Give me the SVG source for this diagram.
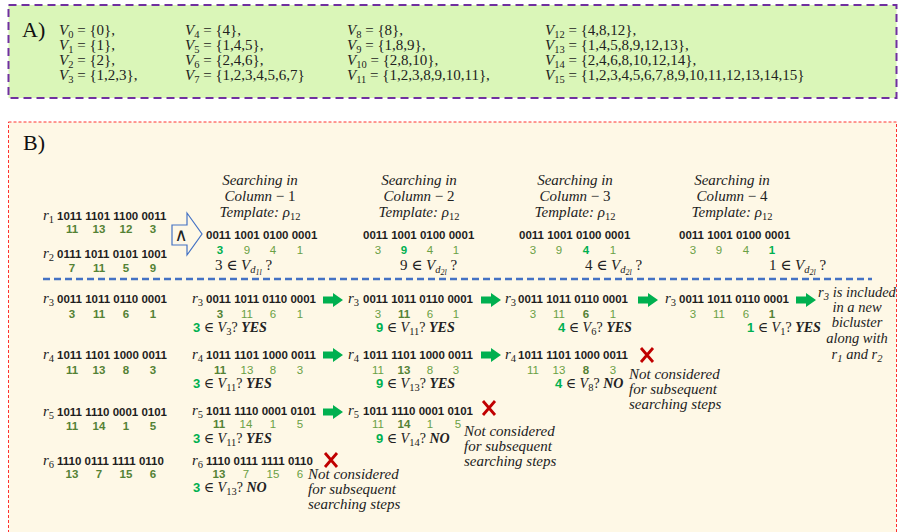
<svg xmlns="http://www.w3.org/2000/svg" xmlns:xlink="http://www.w3.org/1999/xlink" width="905" height="532" viewBox="0 0 905 532">
  <style>
    .ser{font-family:"Liberation Serif","DejaVu Serif",serif;font-size:15px;fill:#222}
    .q{font-size:14px}
    .res{font-size:14.5px}
    .lbl{font-family:"Liberation Serif","DejaVu Serif",serif;font-size:22px;fill:#111}
    .it{font-style:italic}
    .bi{font-style:italic;font-weight:bold}
    .sb{font-size:10.5px}
    .ssb{font-size:8px}
    .mid{text-anchor:middle}
    .bits{font-family:"Liberation Sans",Arial,sans-serif;font-size:11.5px;font-weight:bold;fill:#1e1e1e}
    .num{font-family:"Liberation Sans",Arial,sans-serif;font-size:11.5px;fill:#6aa044;text-anchor:middle}
    .nb{font-weight:bold;fill:#548235}
    .hl{font-weight:bold;fill:#00b050}
    .qd{font-family:"Liberation Sans",Arial,sans-serif;font-weight:bold;font-size:13px;fill:#00b050}
    .x{stroke:#c00000;stroke-width:2.8;fill:none}
  </style>
  <defs>
    <path id="ga" d="M0,-3.5 H10 V-7 L20,0 L10,7 V3.5 H0 Z" fill="#00b050"/>
    <g id="cross">
      <path class="x" d="M-6,-7 L6,7 M6,-7 L-6,7"/>
    </g>
  </defs>

  <!-- Panel A: value sets -->
  <g id="panelA">
    <rect x="8.5" y="5" width="888" height="93" fill="#daf6b8" stroke="#7030a0" stroke-width="2" stroke-dasharray="8 5"/>
    <text class="lbl" x="22" y="37">A)</text>
    <g class="ser">
      <text x="59" y="35"><tspan class="it">V</tspan><tspan class="sb" dy="3">0</tspan><tspan dy="-3"> = {0},</tspan></text>
      <text x="59" y="50"><tspan class="it">V</tspan><tspan class="sb" dy="3">1</tspan><tspan dy="-3"> = {1},</tspan></text>
      <text x="59" y="65"><tspan class="it">V</tspan><tspan class="sb" dy="3">2</tspan><tspan dy="-3"> = {2},</tspan></text>
      <text x="59" y="80"><tspan class="it">V</tspan><tspan class="sb" dy="3">3</tspan><tspan dy="-3"> = {1,2,3},</tspan></text>

      <text x="185" y="35"><tspan class="it">V</tspan><tspan class="sb" dy="3">4</tspan><tspan dy="-3"> = {4},</tspan></text>
      <text x="185" y="50"><tspan class="it">V</tspan><tspan class="sb" dy="3">5</tspan><tspan dy="-3"> = {1,4,5},</tspan></text>
      <text x="185" y="65"><tspan class="it">V</tspan><tspan class="sb" dy="3">6</tspan><tspan dy="-3"> = {2,4,6},</tspan></text>
      <text x="185" y="80"><tspan class="it">V</tspan><tspan class="sb" dy="3">7</tspan><tspan dy="-3"> = {1,2,3,4,5,6,7}</tspan></text>

      <text x="347" y="35"><tspan class="it">V</tspan><tspan class="sb" dy="3">8</tspan><tspan dy="-3"> = {8},</tspan></text>
      <text x="347" y="50"><tspan class="it">V</tspan><tspan class="sb" dy="3">9</tspan><tspan dy="-3"> = {1,8,9},</tspan></text>
      <text x="347" y="65"><tspan class="it">V</tspan><tspan class="sb" dy="3">10</tspan><tspan dy="-3"> = {2,8,10},</tspan></text>
      <text x="347" y="80"><tspan class="it">V</tspan><tspan class="sb" dy="3">11</tspan><tspan dy="-3"> = {1,2,3,8,9,10,11},</tspan></text>

      <text x="545" y="35"><tspan class="it">V</tspan><tspan class="sb" dy="3">12</tspan><tspan dy="-3"> = {4,8,12},</tspan></text>
      <text x="545" y="50"><tspan class="it">V</tspan><tspan class="sb" dy="3">13</tspan><tspan dy="-3"> = {1,4,5,8,9,12,13},</tspan></text>
      <text x="545" y="65"><tspan class="it">V</tspan><tspan class="sb" dy="3">14</tspan><tspan dy="-3"> = {2,4,6,8,10,12,14},</tspan></text>
      <text x="545" y="80"><tspan class="it">V</tspan><tspan class="sb" dy="3">15</tspan><tspan dy="-3"> = {1,2,3,4,5,6,7,8,9,10,11,12,13,14,15}</tspan></text>
    </g>
  </g>

  <!-- Panel B: column-wise search -->
  <g id="panelB">
    <rect x="8.5" y="122" width="888" height="420" fill="#fef8e6" stroke="#ff3030" stroke-width="1" stroke-dasharray="3 2"/>
    <text class="lbl" x="23" y="150">B)</text>
    <line x1="43" y1="279" x2="872" y2="279" stroke="#4472c4" stroke-width="2.5" stroke-dasharray="7 4"/>
  </g>

  <!-- seed rows -->
  <g id="r1">
    <text class="ser" x="43" y="220"><tspan class="it">r</tspan><tspan class="sb" dy="3">1</tspan></text>
    <text class="bits" x="57" y="220">1011 1101 1100 0011</text>
    <text class="num nb" x="72" y="233">11</text><text class="num nb" x="99" y="233">13</text><text class="num nb" x="126" y="233">12</text><text class="num nb" x="153" y="233">3</text>
  </g>
  <g id="r2">
    <text class="ser" x="43" y="258"><tspan class="it">r</tspan><tspan class="sb" dy="3">2</tspan></text>
    <text class="bits" x="57" y="258">0111 1011 0101 1001</text>
    <text class="num nb" x="72" y="272">7</text><text class="num nb" x="99" y="272">11</text><text class="num nb" x="126" y="272">5</text><text class="num nb" x="153" y="272">9</text>
  </g>
  <g id="and-op">
    <path d="M172,225 H187 V213 L202,234 L187,255 V245 H172 Z" fill="#fef8e6" stroke="#4472c4" stroke-width="1.2"/>
    <text x="181" y="241" text-anchor="middle" font-family="DejaVu Sans,sans-serif" font-size="18" fill="#222">∧</text>
  </g>

  <!-- template columns -->
  <g id="col1">
    <text class="ser mid it" x="260" y="185">Searching in</text>
    <text class="ser mid" x="260" y="201"><tspan class="it">Column</tspan> − 1</text>
    <text class="ser mid" x="260" y="217"><tspan class="it">Template:</tspan> <tspan class="it">ρ</tspan><tspan class="sb" dy="3">12</tspan></text>
    <text class="bits" x="206" y="239">0011 1001 0100 0001</text>
    <text class="num hl" x="220" y="254">3</text><text class="num" x="247" y="254">9</text><text class="num" x="273" y="254">4</text><text class="num" x="300" y="254">1</text>
    <text class="ser" x="215" y="270">3 ∈ <tspan class="it">V</tspan><tspan class="sb it" dy="3">d</tspan><tspan class="ssb it" dy="2">1l</tspan><tspan dy="-5"> ?</tspan></text>
  </g>
  <g id="col2">
    <text class="ser mid it" x="419" y="185">Searching in</text>
    <text class="ser mid" x="419" y="201"><tspan class="it">Column</tspan> − 2</text>
    <text class="ser mid" x="419" y="217"><tspan class="it">Template:</tspan> <tspan class="it">ρ</tspan><tspan class="sb" dy="3">12</tspan></text>
    <text class="bits" x="363" y="239">0011 1001 0100 0001</text>
    <text class="num" x="378" y="254">3</text><text class="num hl" x="404" y="254">9</text><text class="num" x="430" y="254">4</text><text class="num" x="456" y="254">1</text>
    <text class="ser" x="400" y="270">9 ∈ <tspan class="it">V</tspan><tspan class="sb it" dy="3">d</tspan><tspan class="ssb it" dy="2">2l</tspan><tspan dy="-5"> ?</tspan></text>
  </g>
  <g id="col3">
    <text class="ser mid it" x="575" y="185">Searching in</text>
    <text class="ser mid" x="575" y="201"><tspan class="it">Column</tspan> − 3</text>
    <text class="ser mid" x="575" y="217"><tspan class="it">Template:</tspan> <tspan class="it">ρ</tspan><tspan class="sb" dy="3">12</tspan></text>
    <text class="bits" x="519" y="239">0011 1001 0100 0001</text>
    <text class="num" x="533" y="254">3</text><text class="num" x="559" y="254">9</text><text class="num hl" x="586" y="254">4</text><text class="num" x="613" y="254">1</text>
    <text class="ser" x="585" y="270">4 ∈ <tspan class="it">V</tspan><tspan class="sb it" dy="3">d</tspan><tspan class="ssb it" dy="2">2l</tspan><tspan dy="-5"> ?</tspan></text>
  </g>
  <g id="col4">
    <text class="ser mid it" x="732" y="185">Searching in</text>
    <text class="ser mid" x="732" y="201"><tspan class="it">Column</tspan> − 4</text>
    <text class="ser mid" x="732" y="217"><tspan class="it">Template:</tspan> <tspan class="it">ρ</tspan><tspan class="sb" dy="3">12</tspan></text>
    <text class="bits" x="679" y="239">0011 1001 0100 0001</text>
    <text class="num" x="693" y="254">3</text><text class="num" x="719" y="254">9</text><text class="num" x="746" y="254">4</text><text class="num hl" x="772" y="254">1</text>
    <text class="ser" x="769" y="270">1 ∈ <tspan class="it">V</tspan><tspan class="sb it" dy="3">d</tspan><tspan class="ssb it" dy="2">2l</tspan><tspan dy="-5"> ?</tspan></text>
  </g>

  <!-- candidate rows -->
  <g id="r3">
    <text class="ser" x="43" y="303"><tspan class="it">r</tspan><tspan class="sb" dy="3">3</tspan></text>
    <text class="bits" x="57" y="303">0011 1011 0110 0001</text>
    <text class="num nb" x="72" y="318">3</text><text class="num nb" x="99" y="318">11</text><text class="num nb" x="126" y="318">6</text><text class="num nb" x="153" y="318">1</text>
  </g>
  <g id="r4">
    <text class="ser" x="43" y="359"><tspan class="it">r</tspan><tspan class="sb" dy="3">4</tspan></text>
    <text class="bits" x="57" y="359">1011 1101 1000 0011</text>
    <text class="num nb" x="72" y="374">11</text><text class="num nb" x="99" y="374">13</text><text class="num nb" x="126" y="374">8</text><text class="num nb" x="153" y="374">3</text>
  </g>
  <g id="r5">
    <text class="ser" x="43" y="416"><tspan class="it">r</tspan><tspan class="sb" dy="3">5</tspan></text>
    <text class="bits" x="57" y="416">1011 1110 0001 0101</text>
    <text class="num nb" x="72" y="430">11</text><text class="num nb" x="99" y="430">14</text><text class="num nb" x="126" y="430">1</text><text class="num nb" x="153" y="430">5</text>
  </g>
  <g id="r6">
    <text class="ser" x="43" y="465"><tspan class="it">r</tspan><tspan class="sb" dy="3">6</tspan></text>
    <text class="bits" x="57" y="465">1110 0111 1111 0110</text>
    <text class="num nb" x="72" y="478">13</text><text class="num nb" x="99" y="478">7</text><text class="num nb" x="126" y="478">15</text><text class="num nb" x="153" y="478">6</text>
  </g>

  <!-- step 1 -->
  <g id="s1-r3">
    <text class="ser" x="192" y="303"><tspan class="it">r</tspan><tspan class="sb" dy="3">3</tspan></text>
    <text class="bits" x="206" y="303">0011 1011 0110 0001</text>
    <text class="num nb" x="220" y="318">3</text><text class="num" x="247" y="318">11</text><text class="num" x="273" y="318">6</text><text class="num" x="300" y="318">1</text>
    <text class="ser q" x="193" y="332"><tspan class="qd">3</tspan> ∈ <tspan class="it">V</tspan><tspan class="sb" dy="3">3</tspan><tspan dy="-3">? </tspan><tspan class="bi">YES</tspan></text>
  </g>
  <g id="s1-r4">
    <text class="ser" x="192" y="359"><tspan class="it">r</tspan><tspan class="sb" dy="3">4</tspan></text>
    <text class="bits" x="206" y="359">1011 1101 1000 0011</text>
    <text class="num nb" x="220" y="374">11</text><text class="num" x="247" y="374">13</text><text class="num" x="273" y="374">8</text><text class="num" x="300" y="374">3</text>
    <text class="ser q" x="193" y="388"><tspan class="qd">3</tspan> ∈ <tspan class="it">V</tspan><tspan class="sb" dy="3">11</tspan><tspan dy="-3">? </tspan><tspan class="bi">YES</tspan></text>
  </g>
  <g id="s1-r5">
    <text class="ser" x="192" y="415"><tspan class="it">r</tspan><tspan class="sb" dy="3">5</tspan></text>
    <text class="bits" x="206" y="415">1011 1110 0001 0101</text>
    <text class="num nb" x="219" y="428">11</text><text class="num" x="246" y="428">14</text><text class="num" x="273" y="428">1</text><text class="num" x="300" y="428">5</text>
    <text class="ser q" x="193" y="443"><tspan class="qd">3</tspan> ∈ <tspan class="it">V</tspan><tspan class="sb" dy="3">11</tspan><tspan dy="-3">? </tspan><tspan class="bi">YES</tspan></text>
  </g>
  <g id="s1-r6">
    <text class="ser" x="192" y="465"><tspan class="it">r</tspan><tspan class="sb" dy="3">6</tspan></text>
    <text class="bits" x="206" y="465">1110 0111 1111 0110</text>
    <text class="num nb" x="219" y="478">13</text><text class="num" x="246" y="478">7</text><text class="num" x="273" y="478">15</text><text class="num" x="300" y="478">6</text>
    <text class="ser q" x="193" y="492"><tspan class="qd">3</tspan> ∈ <tspan class="it">V</tspan><tspan class="sb" dy="3">13</tspan><tspan dy="-3">? </tspan><tspan class="bi">NO</tspan></text>
    <use xlink:href="#cross" href="#cross" x="331" y="460"/>
    <text class="ser it" x="308" y="479">Not considered</text>
    <text class="ser it" x="308" y="494">for subsequent</text>
    <text class="ser it" x="308" y="509">searching steps</text>
  </g>

  <!-- step 2 -->
  <g id="s2-r3">
    <text class="ser" x="348" y="303"><tspan class="it">r</tspan><tspan class="sb" dy="3">3</tspan></text>
    <text class="bits" x="363" y="303">0011 1011 0110 0001</text>
    <text class="num" x="378" y="318">3</text><text class="num nb" x="404" y="318">11</text><text class="num" x="430" y="318">6</text><text class="num" x="456" y="318">1</text>
    <text class="ser q" x="376" y="332"><tspan class="qd">9</tspan> ∈ <tspan class="it">V</tspan><tspan class="sb" dy="3">11</tspan><tspan dy="-3">? </tspan><tspan class="bi">YES</tspan></text>
  </g>
  <g id="s2-r4">
    <text class="ser" x="348" y="359"><tspan class="it">r</tspan><tspan class="sb" dy="3">4</tspan></text>
    <text class="bits" x="363" y="359">1011 1101 1000 0011</text>
    <text class="num" x="378" y="374">11</text><text class="num nb" x="404" y="374">13</text><text class="num" x="430" y="374">8</text><text class="num" x="456" y="374">3</text>
    <text class="ser q" x="376" y="388"><tspan class="qd">9</tspan> ∈ <tspan class="it">V</tspan><tspan class="sb" dy="3">13</tspan><tspan dy="-3">? </tspan><tspan class="bi">YES</tspan></text>
  </g>
  <g id="s2-r5">
    <text class="ser" x="348" y="415"><tspan class="it">r</tspan><tspan class="sb" dy="3">5</tspan></text>
    <text class="bits" x="363" y="415">1011 1110 0001 0101</text>
    <text class="num" x="378" y="428">11</text><text class="num nb" x="404" y="428">14</text><text class="num" x="430" y="428">1</text><text class="num" x="458" y="428">5</text>
    <text class="ser q" x="376" y="443"><tspan class="qd">9</tspan> ∈ <tspan class="it">V</tspan><tspan class="sb" dy="3">14</tspan><tspan dy="-3">? </tspan><tspan class="bi">NO</tspan></text>
    <use xlink:href="#cross" href="#cross" x="489" y="408"/>
    <text class="ser it" x="464" y="436">Not considered</text>
    <text class="ser it" x="464" y="451">for subsequent</text>
    <text class="ser it" x="464" y="466">searching steps</text>
  </g>

  <!-- step 3 -->
  <g id="s3-r3">
    <text class="ser" x="505" y="303"><tspan class="it">r</tspan><tspan class="sb" dy="3">3</tspan></text>
    <text class="bits" x="518" y="303">0011 1011 0110 0001</text>
    <text class="num" x="533" y="318">3</text><text class="num" x="559" y="318">11</text><text class="num nb" x="586" y="318">6</text><text class="num" x="613" y="318">1</text>
    <text class="ser q" x="558" y="332"><tspan class="qd">4</tspan> ∈ <tspan class="it">V</tspan><tspan class="sb" dy="3">6</tspan><tspan dy="-3">? </tspan><tspan class="bi">YES</tspan></text>
  </g>
  <g id="s3-r4">
    <text class="ser" x="505" y="359"><tspan class="it">r</tspan><tspan class="sb" dy="3">4</tspan></text>
    <text class="bits" x="518" y="359">1011 1101 1000 0011</text>
    <text class="num" x="533" y="374">11</text><text class="num" x="559" y="374">13</text><text class="num nb" x="586" y="374">8</text><text class="num" x="613" y="374">3</text>
    <text class="ser q" x="555" y="388"><tspan class="qd">4</tspan> ∈ <tspan class="it">V</tspan><tspan class="sb" dy="3">8</tspan><tspan dy="-3">? </tspan><tspan class="bi">NO</tspan></text>
    <use xlink:href="#cross" href="#cross" x="647" y="355"/>
    <text class="ser it" x="629" y="379">Not considered</text>
    <text class="ser it" x="629" y="394">for subsequent</text>
    <text class="ser it" x="629" y="409">searching steps</text>
  </g>

  <!-- step 4 -->
  <g id="s4-r3">
    <text class="ser" x="665" y="303"><tspan class="it">r</tspan><tspan class="sb" dy="3">3</tspan></text>
    <text class="bits" x="679" y="303">0011 1011 0110 0001</text>
    <text class="num" x="693" y="318">3</text><text class="num" x="719" y="318">11</text><text class="num" x="746" y="318">6</text><text class="num nb" x="772" y="318">1</text>
    <text class="ser q" x="747" y="332"><tspan class="qd">1</tspan> ∈ <tspan class="it">V</tspan><tspan class="sb" dy="3">1</tspan><tspan dy="-3">? </tspan><tspan class="bi">YES</tspan></text>
  </g>

  <!-- result -->
  <g id="result" class="ser res it">
    <text class="mid" x="857" y="297">r<tspan class="sb" dy="3">3</tspan><tspan dy="-3"> is included</tspan></text>
    <text class="mid" x="857" y="312">in a new</text>
    <text class="mid" x="857" y="327">bicluster</text>
    <text class="mid" x="857" y="343">along with</text>
    <text class="mid" x="857" y="359">r<tspan class="sb" dy="3">1</tspan><tspan dy="-3"> and r</tspan><tspan class="sb" dy="3">2</tspan></text>
  </g>

  <!-- connectors -->
  <g id="connectors">
    <use xlink:href="#ga" href="#ga" x="323" y="300"/>
    <use xlink:href="#ga" href="#ga" x="481" y="300"/>
    <use xlink:href="#ga" href="#ga" x="638" y="300"/>
    <use xlink:href="#ga" href="#ga" x="796" y="300"/>
    <use xlink:href="#ga" href="#ga" x="323" y="355"/>
    <use xlink:href="#ga" href="#ga" x="481" y="355"/>
    <use xlink:href="#ga" href="#ga" x="323" y="412"/>
  </g>
</svg>
